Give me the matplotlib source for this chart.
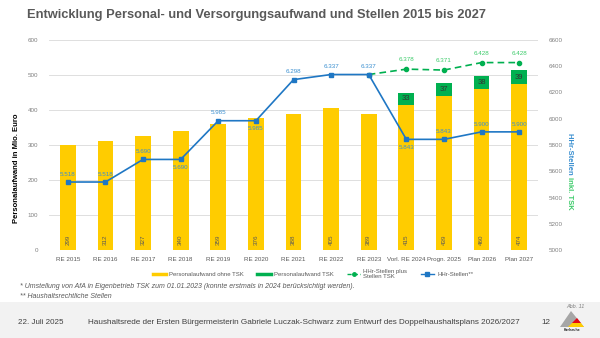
import matplotlib.pyplot as plt
import matplotlib.patches as mpatches
from matplotlib.lines import Line2D
import numpy as np

plt.rcParams['font.family'] = ['Liberation Sans', 'DejaVu Sans']

# Data
categories = ["RE 2015", "RE 2016", "RE 2017", "RE 2018", "RE 2019", "RE 2020", "RE 2021",
              "RE 2022", "RE 2023", "Vorl. RE 2024", "Progn. 2025", "Plan 2026", "Plan 2027"]
aufwand_ohne_tsk = [299, 312, 327, 340, 359, 376, 388, 405, 389, 415, 439, 460, 474]
aufwand_tsk = [0, 0, 0, 0, 0, 0, 0, 0, 0, 33, 37, 38, 39]
stellen = [5518, 5518, 5690, 5690, 5985, 5985, 6298, 6337, 6337, 5843, 5843, 5900, 5900]
stellen_tsk_idx = [8, 9, 10, 11, 12]
stellen_tsk = [6337, 6378, 6371, 6428, 6428]
# label position of the blue line values: +1 above, -1 below
stellen_lbl_pos = [1, 1, 1, -1, 1, -1, 1, 1, 1, -1, 1, 1, 1]

YELLOW = "#FFCC00"
GREEN = "#00B050"
BLUE = "#1F77C4"
LBLUE = "#3A8FD0"
LGREEN = "#3CCB6A"
GRAY = "#595959"


def de(v):
    s = f"{v:,}"
    return s.replace(",", ".")


fig = plt.figure(figsize=(6, 3.38), dpi=100)
ax = fig.add_axes([49 / 600, 1 - 250 / 338, 489 / 600, 210 / 338])
ax2 = ax.twinx()

x = np.arange(len(categories))
w = 0.42
ax.bar(x, aufwand_ohne_tsk, width=w, color=YELLOW, zorder=2)
tsk = np.array(aufwand_tsk)
ax.bar(x[tsk > 0], tsk[tsk > 0], width=w, bottom=np.array(aufwand_ohne_tsk)[tsk > 0],
       color=GREEN, zorder=2)

for xi, v in zip(x, aufwand_ohne_tsk):
    ax.text(xi, 28, str(v), rotation=90, ha="center", va="center", fontsize=4.5, color=GRAY, zorder=3)
for xi, b, v in zip(x, aufwand_ohne_tsk, aufwand_tsk):
    if v > 0:
        ax.text(xi, b + v / 2, str(v), ha="center", va="center", fontsize=5.5, color="#333333", zorder=3)

ax.set_xlim(-0.5, len(categories) - 0.5)
ax.set_ylim(0, 600)
ax.set_yticks(range(0, 601, 100))
ax.grid(axis="y", color="#D9D9D9", linewidth=0.6, zorder=0)
ax.set_axisbelow(True)
ax.set_xticks(x)
ax.set_xticklabels(categories)
ax.tick_params(axis="x", length=0, labelsize=4.5, labelcolor=GRAY, pad=5)
ax.tick_params(axis="y", length=0, labelsize=4.5, labelcolor="#808080", pad=8)
for s in ax.spines.values():
    s.set_visible(False)

# Lines
ax2.plot(x[stellen_tsk_idx], stellen_tsk, color=GREEN, linestyle=(0, (4, 2.5)), linewidth=1.2,
         marker="o", markersize=3, zorder=3)
ax2.plot(x, stellen, color=BLUE, linewidth=1.2, marker="s", markersize=3, zorder=4)
for xi, v, p in zip(x, stellen, stellen_lbl_pos):
    ax2.text(xi, v + p * 60, de(v), ha="center", va="center", fontsize=4.5, color=LBLUE, zorder=5)
for xi, v in zip(x[stellen_tsk_idx][1:], stellen_tsk[1:]):
    ax2.text(xi, v + 70, de(v), ha="center", va="center", fontsize=4.5, color=LGREEN, zorder=5)

ax2.set_ylim(5000, 6600)
ax2.set_yticks(range(5000, 6601, 200))
ax2.tick_params(axis="y", length=0, labelsize=4.5, labelcolor="#808080", pad=8)
for s in ax2.spines.values():
    s.set_visible(False)

# Axis titles
fig.text(17 / 600, 1 - 168 / 338, "Personalaufwand in Mio. Euro", rotation=90, ha="center", va="center",
         fontsize=5.5, fontweight="bold", color="black")
t1 = fig.text(570 / 600, 1 - 133 / 338, "HHr-Stellen ", rotation=-90, ha="center", va="top",
              fontsize=5.5, fontweight="bold", color=LBLUE)
fig.canvas.draw()
bb = t1.get_window_extent()
fig.text(570 / 600, bb.y0 / fig.bbox.height, "inkl. TSK", rotation=-90, ha="center", va="top",
         fontsize=5.5, fontweight="bold", color=LGREEN)

# Title
fig.text(27 / 600, 1 - 15 / 338, "Entwicklung Personal- und Versorgungsaufwand und Stellen 2015 bis 2027",
         ha="left", va="center", fontsize=9.3, fontweight="bold", color=GRAY)

# Legend
handles = [
    Line2D([], [], color=YELLOW, linewidth=2.5),
    Line2D([], [], color=GREEN, linewidth=2.5),
    Line2D([], [], color=GREEN, linewidth=1, linestyle=(0, (3, 1.5)), marker="o", markersize=2.5),
    Line2D([], [], color=BLUE, linewidth=1, marker="s", markersize=2.5),
]
labels = ["Personalaufwand ohne TSK", "Personalaufwand TSK", "HHr-Stellen plus\nStellen TSK", "HHr-Stellen**"]
fig.legend(handles, labels, loc="center", bbox_to_anchor=(313 / 600, 1 - 274 / 338), ncol=4,
           frameon=False, fontsize=4.3, handlelength=2.3, handletextpad=0.5, columnspacing=2.2,
           labelcolor=GRAY)

# Footnotes
fig.text(20 / 600, 1 - 287 / 338,
         "* Umstellung von AfA in Eigenbetrieb TSK zum 01.01.2023 (konnte erstmals in 2024 berücksichtigt werden).",
         ha="left", va="center", fontsize=5, style="italic", color=GRAY)
fig.text(20 / 600, 1 - 297 / 338, "** Haushaltsrechtliche Stellen", ha="left", va="center",
         fontsize=5, style="italic", color=GRAY)

# Footer band
fig.patches.append(mpatches.Rectangle((0, 0), 1, 1 - 302 / 338, transform=fig.transFigure,
                                      facecolor="#F2F2F2", edgecolor="none", zorder=0))
fig.text(18 / 600, 1 - 322 / 338, "22. Juli 2025", ha="left", va="center", fontsize=5.8, color="#404040")
fig.text(88 / 600, 1 - 322 / 338,
         "Haushaltsrede der Ersten Bürgermeisterin Gabriele Luczak-Schwarz zum Entwurf des Doppelhaushaltsplans 2026/2027",
         ha="left", va="center", fontsize=5.85, color="#404040")
fig.text(541 / 600, 1 - 322 / 338, "12", ha="left", va="center", fontsize=5.85, color="#404040")
fig.text(585 / 600, 1 - 307 / 338, "Abb. 11", ha="right", va="center", fontsize=4, style="italic", color="#808080")

# Logo
H = 338.0
def fp(px, py):
    return (px / 600, 1 - py / H)

fig.patches.append(mpatches.Polygon([fp(571, 311), fp(560, 327), fp(584, 327)], closed=True,
                                    transform=fig.transFigure, facecolor="#A6A6A6", edgecolor="none"))
fig.patches.append(mpatches.Polygon([fp(577, 318), fp(572, 323), fp(581, 323)], closed=True,
                                    transform=fig.transFigure, facecolor="#E30613", edgecolor="none"))
fig.patches.append(mpatches.Polygon([fp(572, 323), fp(568, 327), fp(584, 327), fp(581, 323)], closed=True,
                                    transform=fig.transFigure, facecolor="#FFCC00", edgecolor="none"))
fig.text(572 / 600, 1 - 330 / 338, "Karlsruhe", ha="center", va="center", fontsize=2.5,
         fontweight="bold", color="#222222")

fig.savefig("out.png", dpi=100)
